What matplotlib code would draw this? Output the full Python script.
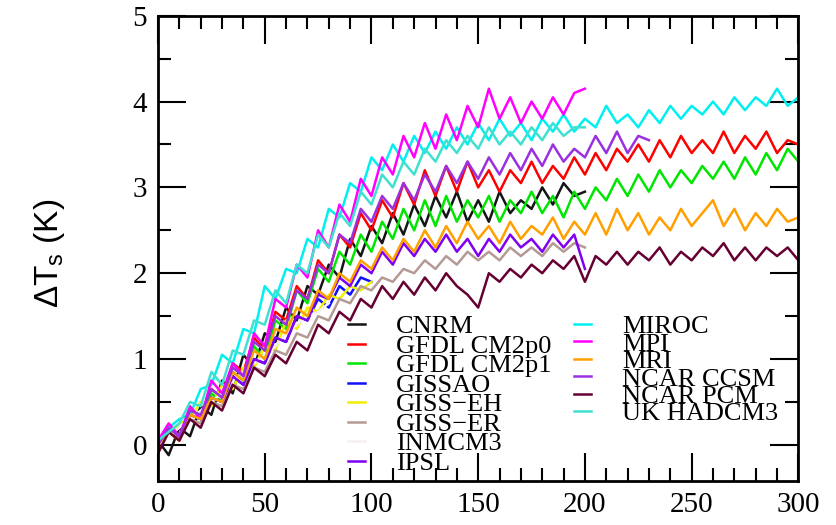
import matplotlib
matplotlib.use('Agg')
import matplotlib.pyplot as plt
from matplotlib.ticker import MultipleLocator
import numpy as np

# model names in legend order
models = ['CNRM', 'GFDL CM2p0', 'GFDL CM2p1', 'GISSAO', 'GISS\u2212EH', 'GISS\u2212ER',
          'INMCM3', 'IPSL', 'MIROC', 'MPI', 'MRI', 'NCAR CCSM', 'NCAR PCM', 'UK HADCM3']
colors = ['#151515', '#ff0000', '#00e600', '#1010ff', '#f0f000', '#b49a94',
          '#f6eef4', '#8000f0', '#00f0f0', '#ff00ff', '#ffa000', '#9a30e0', '#660033', '#40e0d0']

step = 5  # years between read-off values

cnrm = [0.05, -0.12, 0.2, 0.1, 0.45, 0.35, 0.75, 0.6, 1.05, 0.9, 1.3, 1.2, 1.6, 1.45, 1.85, 1.75,
        2.1, 1.95, 2.4, 2.2, 2.55, 2.35, 2.7, 2.45, 2.8, 2.55, 2.9, 2.65, 2.95, 2.6, 2.85, 2.6,
        2.95, 2.7, 2.85, 2.75, 3.0, 2.8, 3.05, 2.9, 2.95]
gfdl_cm2p0 = [0.0, 0.15, 0.05, 0.4, 0.3, 0.65, 0.55, 0.95, 0.85, 1.25, 1.1, 1.55, 1.45, 1.85, 1.7,
              2.15, 2.0, 2.45, 2.3, 2.7, 2.5, 2.85, 2.65, 3.05, 2.8, 3.2, 2.9, 3.25, 2.95, 3.3,
              3.0, 3.2, 2.95, 3.2, 3.05, 3.3, 3.05, 3.25, 3.1, 3.35, 3.15, 3.4, 3.2, 3.45, 3.3,
              3.5, 3.3, 3.55, 3.35, 3.6, 3.4, 3.55, 3.4, 3.65, 3.4, 3.6, 3.45, 3.65, 3.4, 3.55, 3.5]
gfdl_cm2p1 = [0.0, 0.2, 0.1, 0.35, 0.3, 0.6, 0.5, 0.85, 0.75, 1.15, 1.0, 1.45, 1.35, 1.8, 1.65,
              2.05, 1.9, 2.25, 2.1, 2.45, 2.25, 2.6, 2.4, 2.75, 2.5, 2.85, 2.55, 2.9, 2.6, 2.85,
              2.65, 2.9, 2.6, 2.85, 2.7, 2.95, 2.7, 2.9, 2.65, 2.95, 2.75, 3.0, 2.85, 3.1, 2.9,
              3.15, 2.95, 3.2, 3.0, 3.2, 3.05, 3.25, 3.1, 3.3, 3.1, 3.35, 3.15, 3.4, 3.2, 3.45, 3.3]
gissao = [0.0, 0.15, 0.1, 0.35, 0.3, 0.55, 0.5, 0.8, 0.7, 1.0, 0.95, 1.25, 1.2, 1.5, 1.45, 1.7,
          1.6, 1.85, 1.75, 1.95, 1.9]
giss_eh = [0.05, 0.1, 0.25, 0.3, 0.5, 0.45, 0.7, 0.65, 0.9, 0.9, 1.15, 1.1, 1.45, 1.35, 1.6, 1.55,
           1.75, 1.7, 1.85, 1.8, 1.9]
giss_er = [0.0, 0.15, 0.1, 0.3, 0.25, 0.5, 0.45, 0.7, 0.65, 0.9, 0.85, 1.1, 1.05, 1.3, 1.25, 1.5,
           1.45, 1.7, 1.65, 1.85, 1.8, 1.95, 1.9, 2.05, 2.0, 2.15, 2.05, 2.2, 2.1, 2.25, 2.15,
           2.25, 2.15, 2.3, 2.2, 2.3, 2.2, 2.35, 2.25, 2.35, 2.3]
inmcm3 = [0.0, 0.1, 0.2, 0.3, 0.4, 0.5, 0.6, 0.75, 0.85, 0.95, 1.05, 1.15, 1.3, 1.4, 1.5, 1.55, 1.65]
ipsl = [0.0, 0.2, 0.1, 0.35, 0.3, 0.55, 0.5, 0.8, 0.7, 1.0, 0.95, 1.25, 1.2, 1.5, 1.45, 1.75, 1.7,
        1.95, 1.85, 2.1, 2.0, 2.25, 2.1, 2.35, 2.2, 2.4, 2.25, 2.45, 2.25, 2.4, 2.2, 2.4, 2.25,
        2.45, 2.3, 2.4, 2.25, 2.45, 2.3, 2.45, 2.05]
miroc = [0.0, 0.2, 0.3, 0.35, 0.65, 0.7, 1.05, 0.95, 1.35, 1.3, 1.85, 1.7, 2.05, 2.0, 2.4, 2.3,
         2.75, 2.65, 3.05, 2.95, 3.35, 3.2, 3.5, 3.3, 3.6, 3.4, 3.65, 3.45, 3.7, 3.5, 3.75, 3.55,
         3.8, 3.6, 3.75, 3.55, 3.8, 3.65, 3.85, 3.65, 3.8, 3.7, 3.95, 3.75, 3.85, 3.7, 3.9, 3.75,
         3.95, 3.8, 3.95, 3.85, 4.0, 3.85, 4.05, 3.9, 4.05, 3.95, 4.15, 3.95, 4.05]
mpi = [0.05, 0.25, 0.1, 0.45, 0.3, 0.75, 0.6, 0.95, 0.8, 1.3, 1.15, 1.7, 1.6, 2.1, 1.95, 2.5, 2.3,
       2.8, 2.6, 3.1, 2.9, 3.35, 3.15, 3.6, 3.35, 3.75, 3.45, 3.85, 3.55, 3.95, 3.7, 4.15, 3.8,
       4.05, 3.75, 4.0, 3.8, 4.05, 3.85, 4.1, 4.15]
mri = [0.0, 0.15, 0.05, 0.35, 0.3, 0.55, 0.5, 0.85, 0.75, 1.1, 1.0, 1.35, 1.3, 1.6, 1.5, 1.8, 1.7,
       2.0, 1.9, 2.15, 2.05, 2.3, 2.15, 2.4, 2.25, 2.5, 2.3, 2.55, 2.35, 2.6, 2.4, 2.55, 2.35,
       2.6, 2.4, 2.55, 2.45, 2.65, 2.4, 2.6, 2.45, 2.7, 2.45, 2.75, 2.5, 2.7, 2.45, 2.65, 2.5,
       2.75, 2.55, 2.7, 2.85, 2.55, 2.75, 2.5, 2.7, 2.55, 2.75, 2.6, 2.65]
ncar_ccsm = [0.0, 0.2, 0.1, 0.4, 0.35, 0.65, 0.55, 0.9, 0.8, 1.2, 1.1, 1.5, 1.4, 1.8, 1.7, 2.1,
             2.0, 2.45, 2.35, 2.75, 2.6, 2.9, 2.75, 3.05, 2.85, 3.15, 2.95, 3.25, 3.05, 3.3, 3.1,
             3.35, 3.15, 3.4, 3.2, 3.45, 3.25, 3.5, 3.3, 3.45, 3.35, 3.6, 3.4, 3.65, 3.4, 3.6, 3.55]
ncar_pcm = [-0.1, 0.15, 0.05, 0.3, 0.2, 0.5, 0.4, 0.7, 0.6, 0.9, 0.8, 1.05, 0.95, 1.2, 1.1, 1.4,
            1.3, 1.55, 1.45, 1.7, 1.6, 1.85, 1.7, 1.9, 1.75, 1.95, 1.8, 2.0, 1.85, 1.75, 1.6, 2.0,
            1.9, 2.05, 1.95, 2.1, 2.0, 2.15, 2.05, 2.2, 1.9, 2.2, 2.1, 2.25, 2.1, 2.25, 2.15, 2.3,
            2.1, 2.25, 2.15, 2.3, 2.2, 2.35, 2.15, 2.3, 2.15, 2.3, 2.2, 2.3, 2.15]
uk_hadcm3 = [0.05, 0.15, 0.25, 0.5, 0.45, 0.85, 0.7, 1.1, 1.05, 1.45, 1.4, 1.8, 1.65, 2.1, 2.0,
             2.45, 2.3, 2.7, 2.55, 2.95, 2.8, 3.15, 3.0, 3.3, 3.15, 3.45, 3.3, 3.55, 3.4, 3.6,
             3.45, 3.7, 3.5, 3.65, 3.5, 3.7, 3.55, 3.75, 3.6, 3.7, 3.7]

series = [cnrm, gfdl_cm2p0, gfdl_cm2p1, gissao, giss_eh, giss_er, inmcm3, ipsl,
          miroc, mpi, mri, ncar_ccsm, ncar_pcm, uk_hadcm3]

plt.rcParams['font.family'] = 'Liberation Serif'
plt.rcParams['mathtext.default'] = 'regular'

fig = plt.figure(figsize=(8.36, 5.25), dpi=100)
ax = fig.add_axes([0.189, 0.084, 0.766, 0.886])

lines = []
for name, vals, c in zip(models, series, colors):
    yrs = np.arange(len(vals)) * step
    ln, = ax.plot(yrs, vals, color=c, lw=1.8, label=name)
    lines.append(ln)

ax.set_xlim(0, 300)
ax.set_ylim(-0.42, 5.0)
ax.xaxis.set_major_locator(MultipleLocator(50))
ax.xaxis.set_minor_locator(MultipleLocator(10))
ax.yaxis.set_major_locator(MultipleLocator(1))
ax.yaxis.set_minor_locator(MultipleLocator(0.5))
ax.tick_params(which='both', direction='in', top=True, right=True, width=1.5, labelsize=21, pad=8)
ax.tick_params(which='major', length=20)
ax.tick_params(which='minor', length=9.5)
for sp in ax.spines.values():
    sp.set_linewidth(2)

ax.set_ylabel('\u0394T$_s$ (K)', fontsize=24, family='Liberation Sans')
ax.yaxis.set_label_coords(-0.142, 0.49)

leg_kw = dict(frameon=False, fontsize=19, handlelength=0.65, handletextpad=1.15,
              borderpad=0, borderaxespad=0, loc='upper left')
leg1 = ax.legend(lines[:8], models[:8], bbox_to_anchor=(0.297, 0.357),
                 labelspacing=-0.15, **leg_kw)
ax.add_artist(leg1)
leg2 = ax.legend(lines[8:], models[8:], bbox_to_anchor=(0.65, 0.357),
                 labelspacing=-0.23, **leg_kw)
for lg in (leg1, leg2):
    for h in lg.legend_handles:
        h.set_linewidth(1.8)

fig.savefig('out.png', dpi=100)
